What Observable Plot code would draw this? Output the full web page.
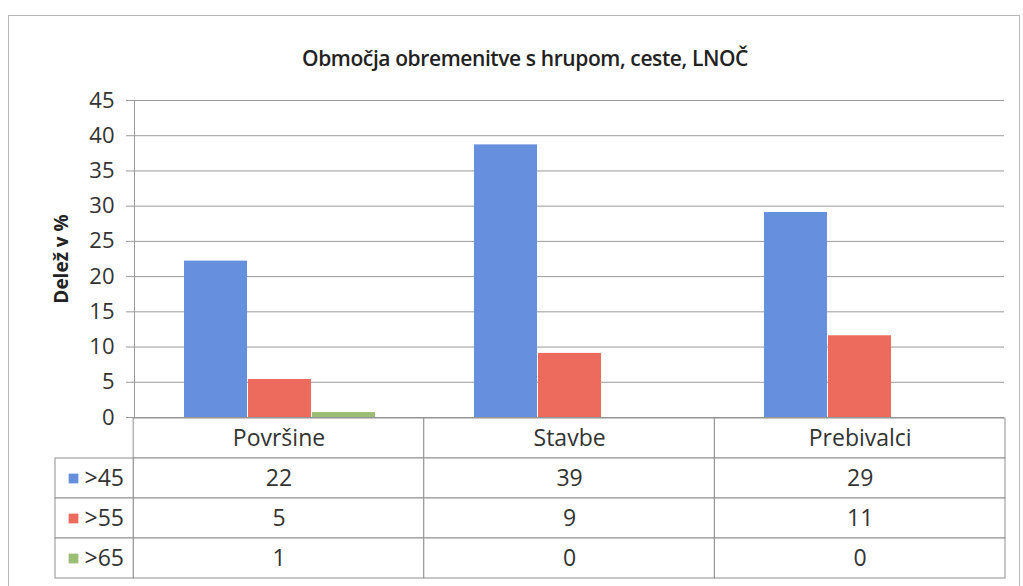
<!DOCTYPE html>
<html>
<head>
<meta charset="utf-8">
<script src="https://cdn.jsdelivr.net/npm/d3@7"></script>
<script src="https://cdn.jsdelivr.net/npm/@observablehq/plot@0.6"></script>
<style>
  html, body { margin: 0; padding: 0; background: #fff; }
  #wrap { position: relative; width: 1023px; height: 586px; overflow: hidden; font-family: "Open Sans", sans-serif; }
  #border { position: absolute; left: 8px; top: 15px; width: 1010px; height: 600px; border: 1px solid #b8b8b8; }
  #title { position: absolute; left: 0; width: 1050px; top: 44px; text-align: center; font-size: 21px; font-weight: 600; color: #222; letter-spacing: -0.4px; }
  #chart { position: absolute; left: 0; top: 80px; }
  #table { position: absolute; left: 0; top: 417px; }
  #chart svg text, #table svg text { fill: #333; }
  #chart g[aria-label="y-axis label"] text { font-weight: 700; font-size: 19px; fill: #222; }
</style>
</head>
<body>
<div id="wrap">
  <div id="border"></div>
  <div id="title">Območja obremenitve s hrupom, ceste, LNOČ</div>
  <div id="chart"></div>
  <div id="table"></div>
</div>
<script>
// ---- data ----
const categories = ["Površine", "Stavbe", "Prebivalci"];
const series = [">45", ">55", ">65"];
const colors = ["#6690dd", "#ec6b5c", "#9cbd74"];
const values45 = [22.2, 38.7, 29.1];
const values55 = [5.4, 9.1, 11.6];
const values65 = [0.7, 0, 0];
const labels45 = ["22", "39", "29"];
const labels55 = ["5", "9", "11"];
const labels65 = ["1", "0", "0"];
const yTicks = [0, 5, 10, 15, 20, 25, 30, 35, 40, 45];

const seriesValues = [values45, values55, values65];
const seriesLabels = [labels45, labels55, labels65];

const bars = [];
categories.forEach((c, i) => series.forEach((s, j) => bars.push({cat: c, s, v: seriesValues[j][i]})));

const W = 1023, ML = 133, MR = 18;

const chart = Plot.plot({
  width: W,
  height: 349,
  marginTop: 20,
  marginBottom: 12,
  marginLeft: ML,
  marginRight: MR,
  style: {fontFamily: "Open Sans, sans-serif", fontSize: "20px", background: "transparent", overflow: "visible"},
  fx: {domain: categories, paddingInner: 0, paddingOuter: 0, axis: null},
  x: {domain: series, paddingInner: 0.02, paddingOuter: 0.75, axis: null},
  y: {domain: [0, 45], ticks: yTicks},
  color: {domain: series, range: colors},
  marks: [
    Plot.gridY(yTicks, {stroke: "#9a9a9a", strokeOpacity: 1}),
    Plot.axisY(yTicks, {tickSize: 8, tickPadding: 12, stroke: "#9a9a9a", fontSize: 22,
      label: "Delež v %", labelAnchor: "center", labelOffset: 80, labelArrow: "none"}),
    Plot.frame({anchor: "left", facetAnchor: "left", stroke: "#9a9a9a"}),
    Plot.barY(bars, {fx: "cat", x: "s", y: "v", fill: "s"})
  ]
});
document.getElementById("chart").append(chart);

// ---- data table under the chart ----
const legendW = 78 / 290; // legend column width in column units
const rows = ["cat", ...series];
const cells = [];
categories.forEach((c, i) => {
  cells.push({x1: i, x2: i + 1, row: "cat", text: c});
  series.forEach((s, j) => cells.push({x1: i, x2: i + 1, row: s, text: seriesLabels[j][i]}));
});
const legendCells = series.map((s) => ({x1: -legendW, x2: 0, row: s, text: s}));

const table = Plot.plot({
  width: W,
  height: 163,
  marginTop: 0,
  marginBottom: 2,
  marginLeft: 55,
  marginRight: MR,
  style: {fontFamily: "Open Sans, sans-serif", fontSize: "20px", background: "transparent"},
  x: {domain: [-legendW, 3], axis: null},
  y: {domain: rows, paddingInner: 0, paddingOuter: 0, axis: null},
  color: {domain: series, range: colors},
  marks: [
    Plot.barX([...cells, ...legendCells], {x1: "x1", x2: "x2", y: "row", fill: "white", stroke: "#8f8f8f"}),
    Plot.text(cells, {x: (d) => (d.x1 + d.x2) / 2, y: "row", text: "text", fontSize: 23}),
    Plot.dot(legendCells, {x: "x1", y: "row", dx: 18, symbol: "square", r: 5.5, fill: "text"}),
    Plot.text(legendCells, {x: "x1", y: "row", text: "text", dx: 29, textAnchor: "start", fontSize: 23})
  ]
});
document.getElementById("table").append(table);
</script>
</body>
</html>
